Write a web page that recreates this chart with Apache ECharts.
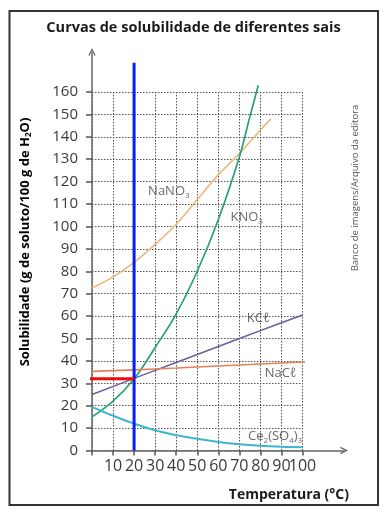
<!DOCTYPE html>
<html>
<head>
<meta charset="utf-8">
<script src="https://cdn.jsdelivr.net/npm/echarts@6/dist/echarts.min.js"></script>
<style>
html,body{margin:0;padding:0;background:#fff;}
#chart{width:387px;height:515px;}
</style>
</head>
<body>
<div id="chart"></div>
<script>
// ---- data ----
const xTicks = [0, 10, 20, 30, 40, 50, 60, 70, 80, 90, 100];
const yTicks = [0, 10, 20, 30, 40, 50, 60, 70, 80, 90, 100, 110, 120, 130, 140, 150, 160];

const nano3T = [0, 10, 20, 30, 40, 50, 60, 70, 80, 85];
const nano3S = [72.5, 77.5, 84, 92, 101, 112, 123, 132.5, 143, 148];

const kno3T = [0, 10, 20, 30, 40, 50, 60, 70, 75, 79];
const kno3S = [15, 22, 32, 46, 61, 80, 103, 131, 149, 163];

const kclT = [0, 20, 40, 60, 80, 100];
const kclS = [25, 32.2, 39.3, 46.4, 53.5, 60.5];

const naclT = [0, 20, 40, 60, 80, 100, 110];
const naclS = [35.3, 36, 36.8, 37.7, 38.6, 39.5, 40];

const ceT = [0, 10, 20, 30, 40, 50, 60, 70, 80, 90, 100];
const ceS = [19.5, 15.5, 12, 9, 6.8, 5.2, 3.8, 2.8, 2.1, 1.7, 1.5];

const blueT = [20, 20];
const blueS = [0, 173];
const redT = [-1.5, 20];
const redS = [32, 32];

const labelNames = ['NaNO3', 'KNO3', 'KCl', 'NaCl', 'Ce2(SO4)3'];
const labelT = [36.5, 73.5, 79, 89.6, 87];
const labelS = [115.5, 104, 59, 34.4, 6.2];

const pairs = (t, s) => t.map((v, i) => [v, s[i]]);

const richTexts = {
  'NaNO3': '{n|NaNO}{s|3}',
  'KNO3': '{n|KNO}{s|3}',
  'KCl': '{n|KCℓ}',
  'NaCl': '{n|NaCℓ}',
  'Ce2(SO4)3': '{n|Ce}{s|2}{n|(SO}{s|4}{n|)}{s|3}'
};

const FONT = '"Open Sans", "Noto Sans", sans-serif';
const chart = echarts.init(document.getElementById('chart'), null, {renderer: 'canvas'});

const chevron = 'path://M0,10 L5,0 L10,10 L8.6,11 L5,3.6 L1.4,11 Z';
const xMin = xTicks[0], xMax = xTicks[xTicks.length - 1];

const curve = (name, t, s, color, width) => ({
  name, type: 'line', xAxisIndex: 0, yAxisIndex: 0,
  data: pairs(t, s), smooth: 0.4, showSymbol: false, clip: false,
  lineStyle: {color, width}, silent: true, z: 3
});

const xLabelStyle = {margin: 8, fontFamily: FONT, fontSize: 16, color: '#3a3a3a'};

const option = {
  animation: false,
  backgroundColor: '#fff',
  title: [
    {text: 'Curvas de solubilidade de diferentes sais', left: 'center', top: 15,
     textStyle: {fontFamily: FONT, fontWeight: 'bold', fontSize: 14.5, color: '#1a1a1a'}},
    {text: 'Temperatura (°C)', right: 33, top: 483,
     textStyle: {fontFamily: FONT, fontWeight: 'bold', fontSize: 14, color: '#1a1a1a'}}
  ],
  grid: [
    {left: 92, top: 92, width: 210.5, height: 358.5},
    {left: 92, top: 52, right: 43, bottom: 64.5}
  ],
  xAxis: [
    {type: 'value', gridIndex: 0, min: xMin, max: xMax, interval: 10, position: 'bottom',
     axisLine: {show: false},
     axisTick: {show: true, length: 5, lineStyle: {color: '#555', width: 1.5}},
     axisLabel: Object.assign({}, xLabelStyle, {showMinLabel: true, showMaxLabel: true,
       formatter: v => (v === xMin || v === xMax ? '' : String(v))}),
     splitLine: {show: true, lineStyle: {color: '#555', width: 1, type: [1.5, 1.5]}}},
    {type: 'value', gridIndex: 1, min: 0, max: 1,
     axisLine: {show: true, symbol: ['none', chevron], symbolSize: [11, 8],
       lineStyle: {color: '#666', width: 1.5}},
     axisTick: {show: false}, axisLabel: {show: false}, splitLine: {show: false}},
    {type: 'value', gridIndex: 0, min: xMin, max: xMax, interval: 10, position: 'bottom',
     axisLine: {show: false}, axisTick: {show: false}, splitLine: {show: false},
     axisLabel: Object.assign({}, xLabelStyle, {showMinLabel: true, showMaxLabel: true,
       formatter: v => (v === xMax ? String(v) : '')})}
  ],
  yAxis: [
    {type: 'value', gridIndex: 0, min: yTicks[0], max: yTicks[yTicks.length - 1], interval: 10,
     axisLine: {show: false},
     axisTick: {show: true, length: 6, lineStyle: {color: '#555', width: 1.5}},
     axisLabel: {margin: 14, fontFamily: FONT, fontSize: 15, color: '#3a3a3a',
       showMinLabel: true, showMaxLabel: true},
     splitLine: {show: true, lineStyle: {color: '#555', width: 1, type: [1.5, 1.5]}}},
    {type: 'value', gridIndex: 1, min: 0, max: 1,
     axisLine: {show: true, symbol: ['none', chevron], symbolSize: [11, 8],
       lineStyle: {color: '#666', width: 1.5}},
     axisTick: {show: false}, axisLabel: {show: false}, splitLine: {show: false}}
  ],
  graphic: [
    {type: 'rect', shape: {x: 9.5, y: 11, width: 368.5, height: 494},
     style: {fill: 'none', stroke: '#333', lineWidth: 2}, z: 100, silent: true},
    {type: 'text', x: 25, y: 242, rotation: Math.PI / 2,
     style: {text: '{b|Solubilidade (g de soluto/100 g de H}{bs|2}{b|O)}',
       align: 'center', verticalAlign: 'middle',
       rich: {b: {fontFamily: FONT, fontWeight: 'bold', fontSize: 13, color: '#1a1a1a', lineHeight: 16},
              bs: {fontFamily: FONT, fontWeight: 'bold', fontSize: 8, color: '#1a1a1a', lineHeight: 10, verticalAlign: 'bottom', padding: [6, 0, 0, 0]}}},
     z: 100, silent: true},
    {type: 'text', x: 355, y: 188, rotation: Math.PI / 2,
     style: {text: 'Banco de imagens/Arquivo da editora', align: 'center', verticalAlign: 'middle',
       fontFamily: FONT, fontSize: 9.5, fill: '#555'}, z: 100, silent: true}
  ],
  series: [
    curve('NaNO3', nano3T, nano3S, '#EDB87A', 1.6),
    curve('KNO3', kno3T, kno3S, '#2B9E7E', 1.7),
    curve('KCl', kclT, kclS, '#6C5CA3', 1.5),
    curve('NaCl', naclT, naclS, '#E1825C', 1.6),
    curve('Ce2(SO4)3', ceT, ceS, '#3DB5CF', 2),
    {name: 'blue', type: 'line', xAxisIndex: 0, yAxisIndex: 0, data: pairs(blueT, blueS), showSymbol: false, clip: false,
     lineStyle: {color: '#0A1EF0', width: 3}, z: 5, silent: true},
    {name: 'red', type: 'line', xAxisIndex: 0, yAxisIndex: 0, data: pairs(redT, redS), showSymbol: false, clip: false,
     lineStyle: {color: '#F20A0A', width: 3}, z: 5, silent: true},
    {name: 'labels', type: 'scatter', xAxisIndex: 0, yAxisIndex: 0, symbolSize: 1, itemStyle: {color: 'rgba(0,0,0,0)'},
     data: labelNames.map((n, i) => [labelT[i], labelS[i], n]), z: 6, silent: true,
     label: {show: true, position: 'inside',
       formatter: p => richTexts[p.data[2]],
       rich: {n: {fontFamily: FONT, fontSize: 13, color: '#444', lineHeight: 16},
              s: {fontFamily: FONT, fontSize: 8, color: '#444', lineHeight: 10, verticalAlign: 'bottom', padding: [7, 0, 0, 0]}}}}
  ]
};
chart.setOption(option);
</script>
</body>
</html>
